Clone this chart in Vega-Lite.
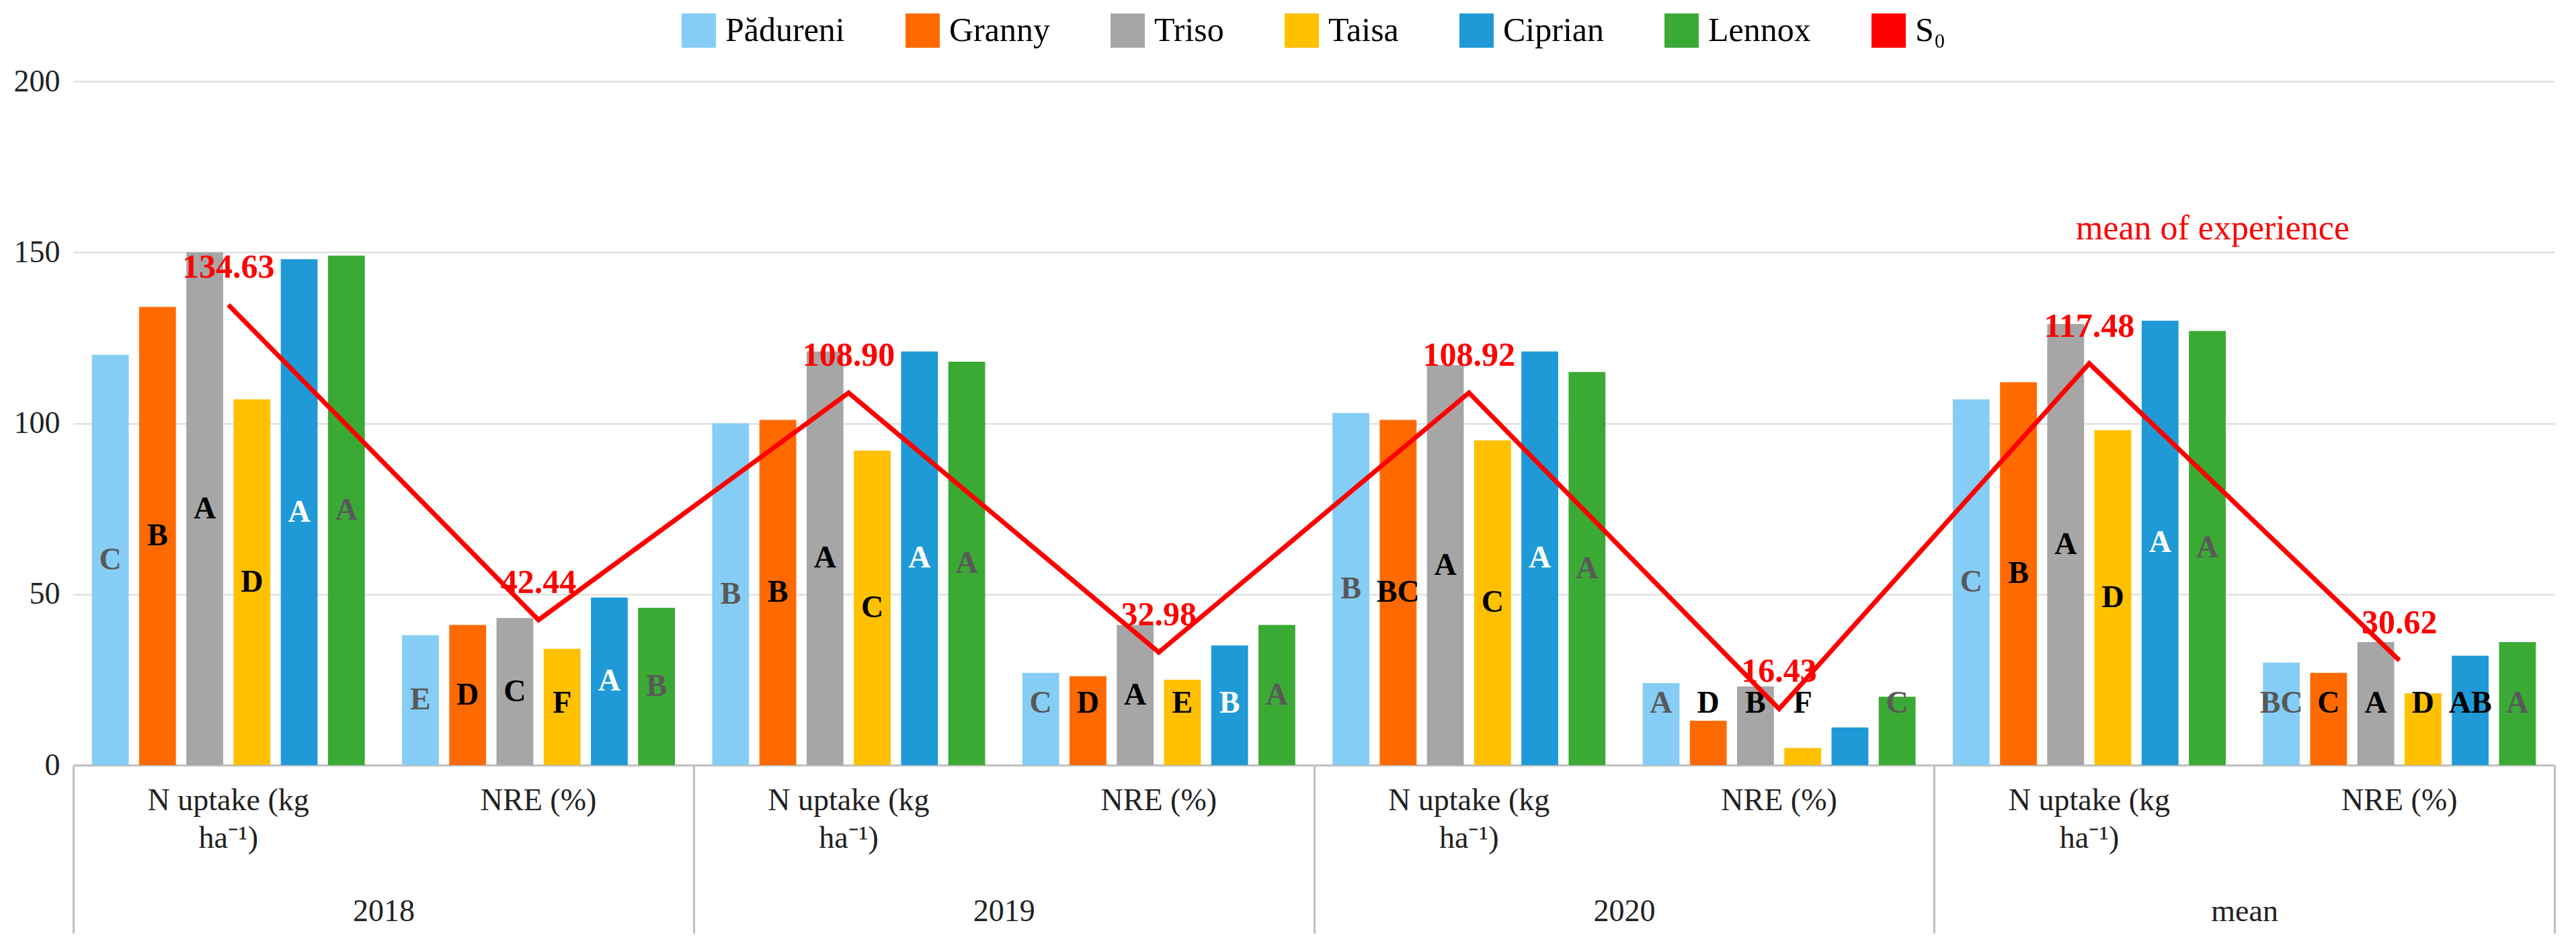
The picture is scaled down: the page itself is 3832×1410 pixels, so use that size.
{
  "$schema": "https://vega.github.io/schema/vega-lite/v6.json",
  "width": 3832,
  "height": 1410,
  "autosize": {"type": "fit", "contains": "padding"},
  "padding": {"left": 20, "right": 30, "top": 20, "bottom": 20},
  "config": {
    "font": "Liberation Serif",
    "view": {"stroke": null},
    "axis": {"labelFont": "Liberation Serif", "labelFontSize": 46, "labelColor": "#222"},
    "legend": {"layout": {"top": {"anchor": "middle"}}}
  },
  "datasets": {
    "bars": [
      {"g": "2018N", "variety": "Pădureni", "v": 120, "letter": "C"},
      {"g": "2018N", "variety": "Granny", "v": 134, "letter": "B"},
      {"g": "2018N", "variety": "Triso", "v": 150, "letter": "A"},
      {"g": "2018N", "variety": "Taisa", "v": 107, "letter": "D"},
      {"g": "2018N", "variety": "Ciprian", "v": 148, "letter": "A"},
      {"g": "2018N", "variety": "Lennox", "v": 149, "letter": "A"},
      {"g": "2018R", "variety": "Pădureni", "v": 38, "letter": "E"},
      {"g": "2018R", "variety": "Granny", "v": 41, "letter": "D"},
      {"g": "2018R", "variety": "Triso", "v": 43, "letter": "C"},
      {"g": "2018R", "variety": "Taisa", "v": 34, "letter": "F"},
      {"g": "2018R", "variety": "Ciprian", "v": 49, "letter": "A"},
      {"g": "2018R", "variety": "Lennox", "v": 46, "letter": "B"},
      {"g": "2019N", "variety": "Pădureni", "v": 100, "letter": "B"},
      {"g": "2019N", "variety": "Granny", "v": 101, "letter": "B"},
      {"g": "2019N", "variety": "Triso", "v": 121, "letter": "A"},
      {"g": "2019N", "variety": "Taisa", "v": 92, "letter": "C"},
      {"g": "2019N", "variety": "Ciprian", "v": 121, "letter": "A"},
      {"g": "2019N", "variety": "Lennox", "v": 118, "letter": "A"},
      {"g": "2019R", "variety": "Pădureni", "v": 27, "letter": "C"},
      {"g": "2019R", "variety": "Granny", "v": 26, "letter": "D"},
      {"g": "2019R", "variety": "Triso", "v": 41, "letter": "A"},
      {"g": "2019R", "variety": "Taisa", "v": 25, "letter": "E"},
      {"g": "2019R", "variety": "Ciprian", "v": 35, "letter": "B"},
      {"g": "2019R", "variety": "Lennox", "v": 41, "letter": "A"},
      {"g": "2020N", "variety": "Pădureni", "v": 103, "letter": "B"},
      {"g": "2020N", "variety": "Granny", "v": 101, "letter": "BC"},
      {"g": "2020N", "variety": "Triso", "v": 117, "letter": "A"},
      {"g": "2020N", "variety": "Taisa", "v": 95, "letter": "C"},
      {"g": "2020N", "variety": "Ciprian", "v": 121, "letter": "A"},
      {"g": "2020N", "variety": "Lennox", "v": 115, "letter": "A"},
      {"g": "2020R", "variety": "Pădureni", "v": 24, "letter": "A"},
      {"g": "2020R", "variety": "Granny", "v": 13, "letter": "D"},
      {"g": "2020R", "variety": "Triso", "v": 23, "letter": "B"},
      {"g": "2020R", "variety": "Taisa", "v": 5, "letter": "F"},
      {"g": "2020R", "variety": "Ciprian", "v": 11, "letter": "E"},
      {"g": "2020R", "variety": "Lennox", "v": 20, "letter": "C"},
      {"g": "meanN", "variety": "Pădureni", "v": 107, "letter": "C"},
      {"g": "meanN", "variety": "Granny", "v": 112, "letter": "B"},
      {"g": "meanN", "variety": "Triso", "v": 129, "letter": "A"},
      {"g": "meanN", "variety": "Taisa", "v": 98, "letter": "D"},
      {"g": "meanN", "variety": "Ciprian", "v": 130, "letter": "A"},
      {"g": "meanN", "variety": "Lennox", "v": 127, "letter": "A"},
      {"g": "meanR", "variety": "Pădureni", "v": 30, "letter": "BC"},
      {"g": "meanR", "variety": "Granny", "v": 27, "letter": "C"},
      {"g": "meanR", "variety": "Triso", "v": 36, "letter": "A"},
      {"g": "meanR", "variety": "Taisa", "v": 21, "letter": "D"},
      {"g": "meanR", "variety": "Ciprian", "v": 32, "letter": "AB"},
      {"g": "meanR", "variety": "Lennox", "v": 36, "letter": "A"}
    ],
    "s0": [
      {"g": "2018N", "s": 134.63}, {"g": "2018R", "s": 42.44},
      {"g": "2019N", "s": 108.90}, {"g": "2019R", "s": 32.98},
      {"g": "2020N", "s": 108.92}, {"g": "2020R", "s": 16.43},
      {"g": "meanN", "s": 117.48}, {"g": "meanR", "s": 30.62}
    ],
    "years": [{"year": "2018"}, {"year": "2019"}, {"year": "2020"}, {"year": "mean"}]
  },
  "layer": [
    {
      "layer": [
        {
          "data": {"name": "bars"},
          "mark": {"type": "bar"},
          "encoding": {
            "x": {"field": "g", "type": "nominal", "sort": null, "title": null,
              "scale": {"paddingInner": 0.12, "paddingOuter": 0.06},
              "axis": {"labelExpr": "indexof(datum.value, 'N') >= 0 ? ['N uptake (kg', 'ha⁻¹)'] : 'NRE (%)'", "labelAngle": 0, "ticks": false, "domainColor": "#bfbfbf", "domainWidth": 3, "labelPadding": 30, "labelLineHeight": 56, "labelLimit": 600}},
            "xOffset": {"field": "variety", "type": "nominal", "sort": null, "scale": {"paddingInner": 0.22, "domain": ["Pădureni", "Granny", "Triso", "Taisa", "Ciprian", "Lennox"]}},
            "y": {"field": "v", "type": "quantitative", "title": null,
              "scale": {"domain": [0, 200]},
              "axis": {"values": [0, 50, 100, 150, 200], "domain": false, "ticks": false, "gridColor": "#d9d9d9", "gridWidth": 2, "labelPadding": 20}},
            "color": {"field": "variety", "type": "nominal", "title": null,
              "scale": {"domain": ["Pădureni", "Granny", "Triso", "Taisa", "Ciprian", "Lennox", "S₀"],
                "range": ["#85CDF5", "#FF6A00", "#A6A6A6", "#FFC000", "#1F9AD6", "#3AAA35", "#FF0000"]},
              "legend": {"orient": "top", "direction": "horizontal", "labelFontSize": 50, "labelFont": "Liberation Serif", "symbolType": "square", "symbolSize": 2600, "symbolStrokeWidth": 0, "columnPadding": 90, "labelOffset": 14, "labelLimit": 400, "offset": 50}}
          }
        },
        {
          "data": {"name": "bars"},
          "transform": [{"calculate": "max(datum.v / 2, 18)", "as": "ly"}],
          "mark": {"type": "text", "fontSize": 46, "fontWeight": "bold", "baseline": "middle"},
          "encoding": {
            "x": {"field": "g", "type": "nominal", "sort": null},
            "xOffset": {"field": "variety", "type": "nominal", "sort": null},
            "y": {"field": "ly", "type": "quantitative"},
            "text": {"field": "letter"},
            "color": {"condition": [
              {"test": "datum.variety === 'Ciprian' && datum.letter !== 'AB'", "value": "#ffffff"},
              {"test": "datum.variety === 'Pădureni' || datum.variety === 'Lennox'", "value": "#595959"}
            ], "value": "#000000"}
          }
        },
        {
          "data": {"name": "s0"},
          "mark": {"type": "line", "strokeWidth": 7},
          "encoding": {
            "x": {"field": "g", "type": "nominal", "sort": null},
            "y": {"field": "s", "type": "quantitative"},
            "color": {"datum": "S₀"}
          }
        },
        {
          "data": {"name": "s0"},
          "mark": {"type": "text", "fontSize": 50, "fontWeight": "bold", "color": "#FF0000", "dy": -55},
          "encoding": {
            "x": {"field": "g", "type": "nominal", "sort": null},
            "y": {"field": "s", "type": "quantitative"},
            "text": {"field": "s", "format": ".2f"}
          }
        },
        {
          "data": {"values": [{"g": "meanN", "y": 157, "t": "mean of experience"}]},
          "mark": {"type": "text", "fontSize": 52, "color": "#FF0000", "align": "left", "dx": -20},
          "encoding": {
            "x": {"field": "g", "type": "nominal", "sort": null},
            "y": {"field": "y", "type": "quantitative"},
            "text": {"field": "t"}
          }
        }
      ]
    },
    {
      "data": {"name": "years"},
      "mark": {"type": "text", "text": ""},
      "encoding": {
        "x": {"field": "year", "type": "nominal", "sort": null, "title": null,
          "axis": {"orient": "bottom", "labelAngle": 0, "offset": 0, "labelPadding": -55, "labelBaseline": "top", "tickBand": "extent", "tickSize": 250, "tickColor": "#bfbfbf", "tickWidth": 3, "domainColor": "#bfbfbf", "domainWidth": 3, "labelFontSize": 46}},
        "y": {"datum": 0, "type": "quantitative"}
      }
    }
  ],
  "resolve": {"scale": {"x": "independent"}}
}
